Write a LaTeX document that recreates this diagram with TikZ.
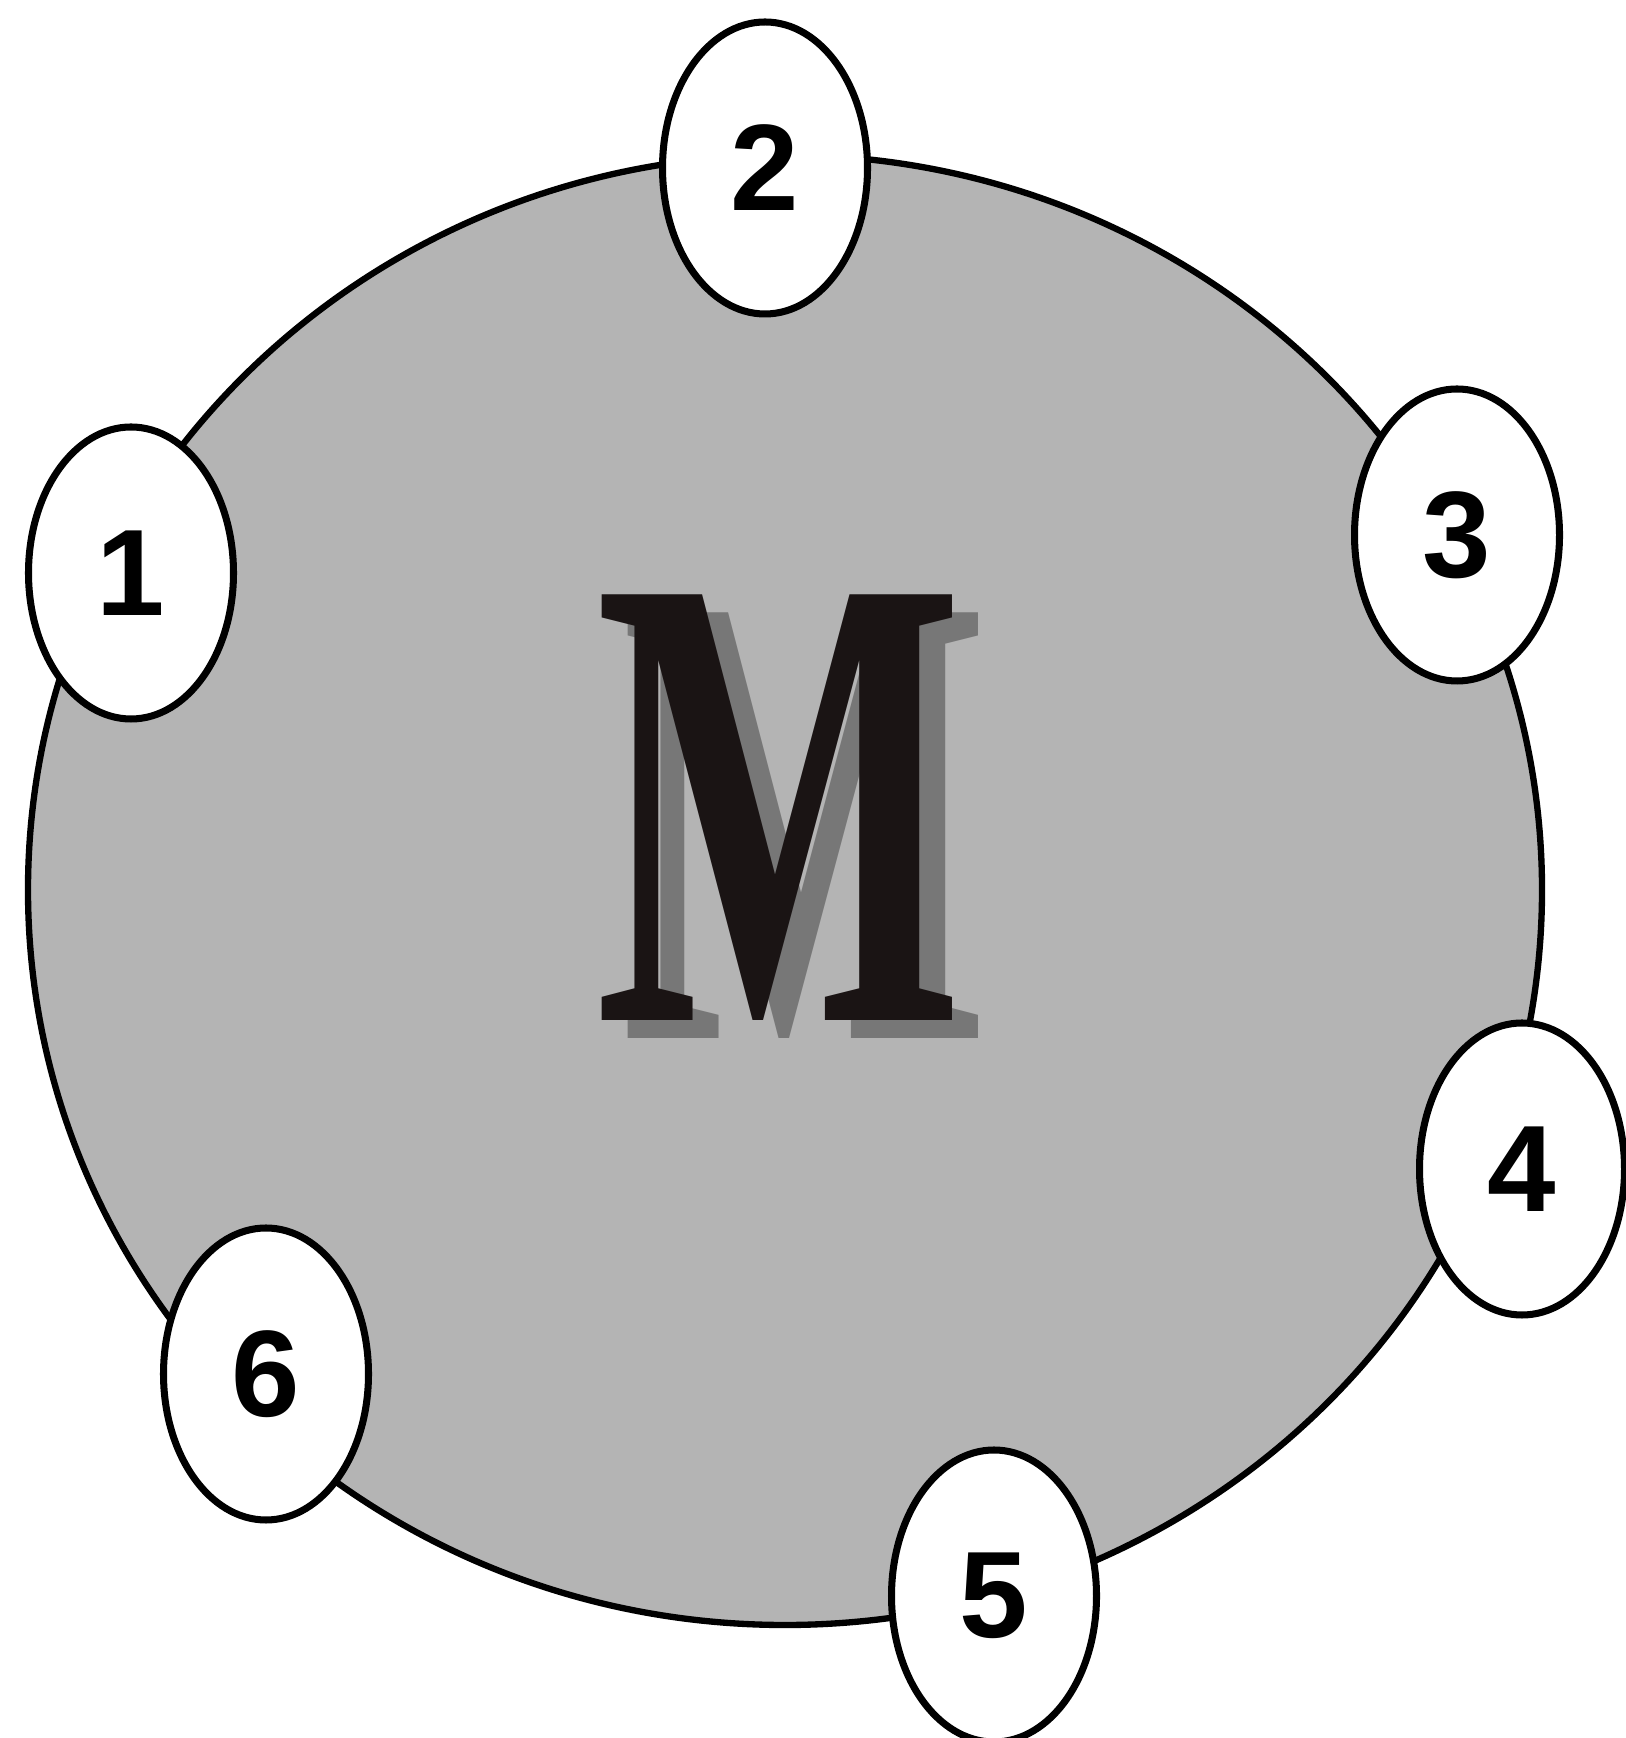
\documentclass[tikz,border=0pt]{standalone}
\usepackage{fontspec}
\setmainfont{Liberation Serif}
\newfontfamily\numfont{Liberation Sans}
\usepackage{tikz}
\usetikzlibrary{positioning,calc,shapes.geometric}
\definecolor{cDisc}{HTML}{B4B4B4}
\definecolor{cInk}{HTML}{1A1414}
\definecolor{cShade}{HTML}{777777}
\tikzset{
  disc/.style={ellipse,draw=black,line width=1.8pt,fill=cDisc,minimum width=15.14cm,minimum height=14.70cm,inner sep=0pt},
  bub/.style={ellipse,draw=black,line width=2pt,fill=white,minimum width=2.05cm,minimum height=2.92cm,inner sep=0pt,font=\numfont\bfseries\fontsize{35}{40}\selectfont},
  bigm/.style={inner sep=0pt,font=\bfseries\fontsize{185}{190}\selectfont},
}

\begin{document}
\begin{tikzpicture}
  \useasboundingbox (0,0) rectangle (16.26,17.38);
  \fill[white] (0,0) rectangle (16.26,17.38);
  \node[disc] (disc) at (7.85,8.48) {};
  % letter with its shadow
  \coordinate (mpos) at ($(disc)+(-0.05,0.82)$);
  \node[bigm,text=cShade] (mshade) at ($(mpos)+(0.26,-0.18)$) {\scalebox{0.6}[1]{M}};
  \node[bigm,text=cInk] (mmain) at (mpos) {\scalebox{0.6}[1]{M}};
  % numbered bubbles on the rim
  \foreach \n/\x/\y in {1/1.31/11.65,2/7.65/15.70,3/14.57/12.03,4/15.22/5.69,5/9.94/1.42,6/2.66/3.64}
     \node[bub] (n\n) at (\x,\y) {\n};
\end{tikzpicture}
\end{document}
